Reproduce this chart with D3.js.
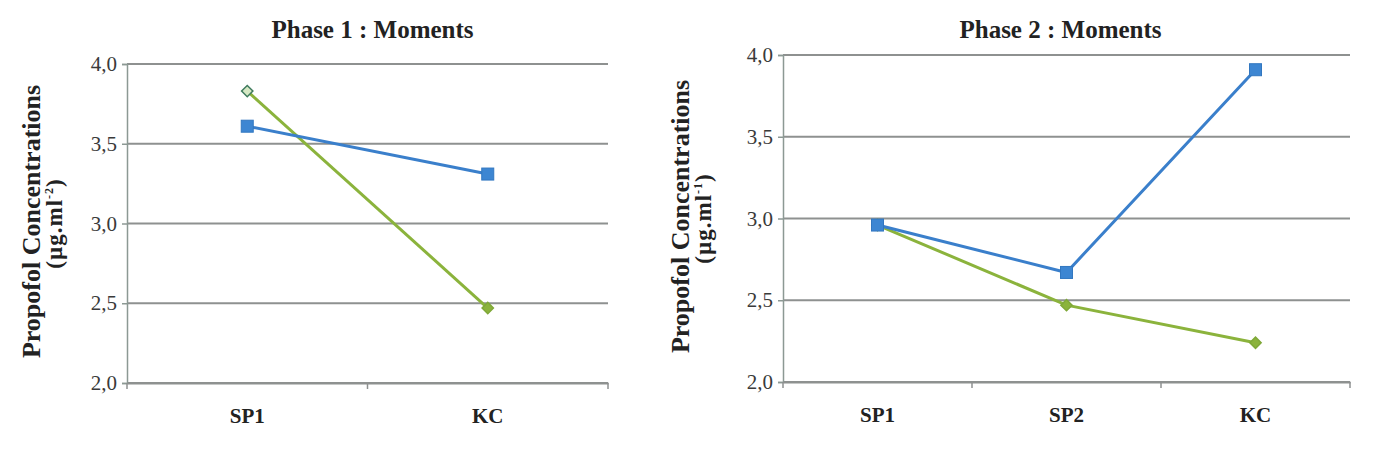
<!DOCTYPE html>
<html><head><meta charset="utf-8">
<script src="https://cdn.jsdelivr.net/npm/d3@7/dist/d3.min.js"></script>
<style>body{margin:0;background:#fff;}svg{display:block;}</style>
</head><body>
<svg id="c" width="1400" height="456"></svg>
<script>
const yTicks = [2.0, 2.5, 3.0, 3.5, 4.0];
const phase1Categories = ["SP1", "KC"];
const phase1Blue = [3.61, 3.31];
const phase1Green = [3.83, 2.47];
const phase2Categories = ["SP1", "SP2", "KC"];
const phase2Blue = [2.96, 2.67, 3.91];
const phase2Green = [2.96, 2.47, 2.24];
const titles = ["Phase 1 : Moments", "Phase 2 : Moments"];
const yLabel = "Propofol Concentrations";
const yUnitsBase = "(µg.ml";
const yUnitsSup = ["-2", "-1"];

const svg = d3.select("#c");
const FONT = "'Liberation Serif', 'DejaVu Serif', serif";
const BLUE = "#3a7fcb", GREEN = "#8bb33c", GRID = "#8e9190";

function panel(cfg){
  const g = svg.append("g");
  const x = d3.scaleBand().domain(cfg.cats).range([cfg.x0, cfg.x1]);
  const y = d3.scaleLinear().domain([2, 4]).range([cfg.y1, cfg.y0]);
  // gridlines
  g.selectAll(".grid").data(yTicks).join("line")
    .attr("x1", cfg.x0).attr("x2", cfg.x1)
    .attr("y1", d => y(d)).attr("y2", d => y(d))
    .attr("stroke", GRID).attr("stroke-width", 2);
  // y axis
  const ya = d3.axisLeft(y).tickValues(yTicks).tickSize(5).tickPadding(5)
    .tickFormat(d => d3.format(".1f")(d).replace(".", ","));
  const yg = g.append("g").attr("transform", `translate(${cfg.x0},0)`).call(ya);
  yg.select(".domain").attr("stroke", "#8c9994").attr("stroke-width", 1.5);
  yg.selectAll(".tick line").attr("stroke", "#8c9994").attr("stroke-width", 1.5);
  yg.selectAll("text").attr("font-family", FONT).attr("font-size", 21).attr("fill", "#3a3a3a");
  // x axis
  const xa = d3.axisBottom(x).tickSize(0).tickPadding(25);
  const xg = g.append("g").attr("transform", `translate(0,${cfg.y1})`).call(xa);
  xg.select(".domain").attr("stroke", GRID).attr("stroke-width", 2);
  xg.selectAll("text").attr("font-family", FONT).attr("font-size", 21).attr("font-weight", "bold").attr("fill", "#222");
  // x ticks at band boundaries
  const bounds = cfg.cats.map(c => x(c)).concat([cfg.x1]);
  g.selectAll(".xt").data(bounds).join("line")
    .attr("x1", d => d).attr("x2", d => d).attr("y1", cfg.y1).attr("y2", cfg.y1 + 6)
    .attr("stroke", GRID).attr("stroke-width", 1.5);
  const cx = c => x(c) + x.bandwidth() / 2;
  const line = d3.line().x((d, i) => cx(cfg.cats[i])).y(d => y(d));
  // green series
  g.append("path").datum(cfg.green).attr("d", line).attr("fill", "none")
    .attr("stroke", GREEN).attr("stroke-width", 3);
  g.selectAll(".gm").data(cfg.green).join("path")
    .attr("d", d3.symbol(d3.symbolSquare, 64))
    .attr("transform", (d, i) => `translate(${cx(cfg.cats[i])},${y(d)}) rotate(45)`)
    .attr("stroke", (d, i) => (cfg.hollowFirst && i === 0) ? "#3f7b5e" : "#7fa838")
    .attr("stroke-width", 1.5)
    .attr("fill", (d, i) => (cfg.hollowFirst && i === 0) ? "#d6e8c4" : GREEN);
  // blue series
  g.append("path").datum(cfg.blue).attr("d", line).attr("fill", "none")
    .attr("stroke", BLUE).attr("stroke-width", 3);
  g.selectAll(".bm").data(cfg.blue).join("rect")
    .attr("x", (d, i) => cx(cfg.cats[i]) - 6).attr("y", d => y(d) - 6)
    .attr("width", 12).attr("height", 12)
    .attr("fill", "#3d86d2").attr("stroke", "#3277c0").attr("stroke-width", 1);
  // title
  g.append("text").attr("x", (cfg.x0 + cfg.x1) / 2 + cfg.titleDx).attr("y", 38)
    .attr("text-anchor", "middle").attr("font-family", FONT).attr("font-weight", "bold")
    .attr("font-size", 25).attr("fill", "#222").text(cfg.title);
  // y label
  const my = (cfg.y0 + cfg.y1) / 2;
  g.append("text").attr("transform", `translate(${cfg.labX},${my - 2}) rotate(-90)`)
    .attr("text-anchor", "middle").attr("font-family", FONT).attr("font-weight", "bold")
    .attr("font-size", 26).attr("fill", "#222").text(yLabel);
  const u = g.append("text").attr("transform", `translate(${cfg.labX + 22},${my}) rotate(-90)`)
    .attr("text-anchor", "middle").attr("font-family", FONT).attr("font-weight", "bold")
    .attr("font-size", 23).attr("fill", "#222").attr("letter-spacing", 1);
  u.append("tspan").text(yUnitsBase);
  u.append("tspan").attr("font-size", 12).attr("dy", -9).text(cfg.sup);
  u.append("tspan").attr("dy", 9).text(")");
}

panel({cats: phase1Categories, blue: phase1Blue, green: phase1Green,
  x0: 127, x1: 608, y0: 64, y1: 383, title: titles[0], sup: yUnitsSup[0], labX: 40, titleDx: 5, hollowFirst: true});
panel({cats: phase2Categories, blue: phase2Blue, green: phase2Green,
  x0: 783, x1: 1350, y0: 55, y1: 382, title: titles[1], sup: yUnitsSup[1], labX: 689, titleDx: -6, hollowFirst: false});
</script>
</body></html>
